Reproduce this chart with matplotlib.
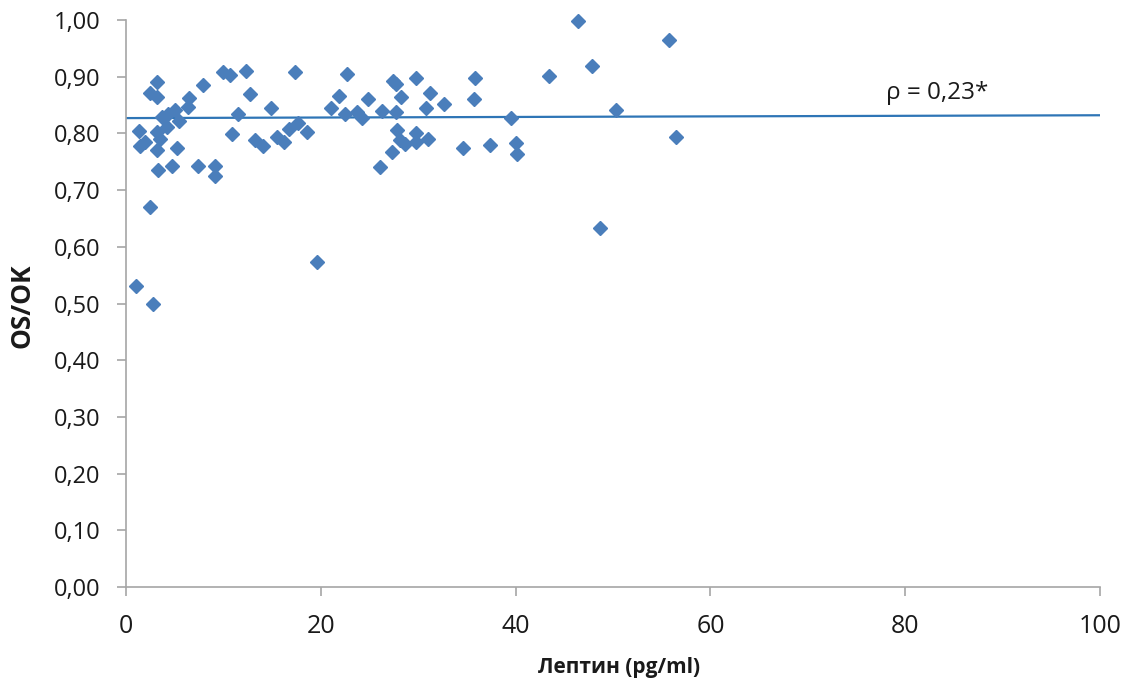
import matplotlib
matplotlib.use("Agg")
import matplotlib.pyplot as plt

leptin = [3.2, 2.5, 3.2, 6.5, 7.9, 6.4, 5.0, 3.7, 5.4, 4.2,
          1.3, 2.0, 1.4, 3.2, 3.5, 3.2, 5.2, 3.3, 4.7, 7.4,
          9.1, 9.1, 2.5, 1.0, 2.8, 19.6, 10.0, 10.7, 12.3, 17.4,
          12.7, 14.9, 11.5, 10.9, 13.2, 14.1, 15.5, 16.2, 16.7, 17.7,
          18.6, 22.7, 21.9, 21.0, 22.5, 23.7, 24.2, 24.8, 26.3, 27.4,
          27.7, 28.2, 27.7, 29.8, 31.2, 30.8, 32.6, 27.8, 28.1, 28.6,
          29.8, 29.8, 31.0, 27.3, 26.1, 34.6, 35.8, 35.7, 46.4, 55.8,
          47.8, 43.4, 39.5, 50.3, 56.5, 37.4, 40.0, 40.1, 48.7, 4.3]
os_ok = [0.891, 0.872, 0.865, 0.862, 0.885, 0.847, 0.841, 0.829, 0.821, 0.812,
         0.804, 0.785, 0.777, 0.803, 0.791, 0.771, 0.774, 0.735, 0.743, 0.743,
         0.743, 0.725, 0.671, 0.530, 0.499, 0.574, 0.909, 0.903, 0.910, 0.908,
         0.869, 0.845, 0.835, 0.799, 0.788, 0.778, 0.794, 0.785, 0.807, 0.818,
         0.803, 0.904, 0.866, 0.844, 0.834, 0.838, 0.828, 0.860, 0.840, 0.893,
         0.888, 0.865, 0.838, 0.897, 0.871, 0.845, 0.851, 0.806, 0.788, 0.781,
         0.800, 0.785, 0.790, 0.768, 0.740, 0.775, 0.897, 0.860, 0.999, 0.965,
         0.918, 0.901, 0.828, 0.841, 0.794, 0.780, 0.783, 0.764, 0.634, 0.835]

trend_x = [0, 100]
trend_y = [0.827, 0.832]

x_ticks = [0, 20, 40, 60, 80, 100]
y_ticks = [0.0, 0.1, 0.2, 0.3, 0.4, 0.5, 0.6, 0.7, 0.8, 0.9, 1.0]
y_tick_labels = ["0,00", "0,10", "0,20", "0,30", "0,40", "0,50",
                 "0,60", "0,70", "0,80", "0,90", "1,00"]
annotation = "ρ = 0,23*"
x_label = "Лептин (pg/ml)"
y_label = "OS/OK"

plt.rcParams['font.family'] = ['Open Sans', 'DejaVu Sans']

fig = plt.figure(figsize=(11.28, 6.84), dpi=100)
ax = fig.add_axes([126/1128, 1 - 587/684, (1100-126)/1128, (587-20)/684])

ax.plot(trend_x, trend_y, color='#2E75B6', lw=1.6, zorder=2)
ax.plot(leptin, os_ok, linestyle='none', marker='D', markersize=7.2,
        color='#4A7EBB', markeredgecolor='#4A7EBB', zorder=3,
        clip_on=False)

ax.set_xlim(0, 100)
ax.set_ylim(0, 1.0)
ax.set_xticks(x_ticks)
ax.set_xticklabels([str(v) for v in x_ticks], fontsize=18)
ax.set_yticks(y_ticks)
ax.set_yticklabels(y_tick_labels, fontsize=17)

for s in ['top', 'right']:
    ax.spines[s].set_visible(False)
for s in ['left', 'bottom']:
    ax.spines[s].set_color('#A6A6A6')
    ax.spines[s].set_linewidth(1.2)
ax.tick_params(axis='both', direction='out', length=6.5, width=1.2,
               color='#A6A6A6', labelcolor='#1a1a1a')
ax.tick_params(axis='y', pad=12)
ax.tick_params(axis='x', pad=13)

ax.text(78.0, 0.871, annotation, fontsize=17.5, color='#1a1a1a',
        ha='left', va='center')

fig.text(22/1128, 1 - 306/684, y_label, rotation=90, fontsize=19,
         fontweight='bold', ha='center', va='center', color='#1a1a1a')
fig.text(619/1128, 1 - 668/684, x_label, fontsize=15, fontweight='bold',
         ha='center', va='center', color='#1a1a1a')

fig.savefig('out.png', dpi=100)
